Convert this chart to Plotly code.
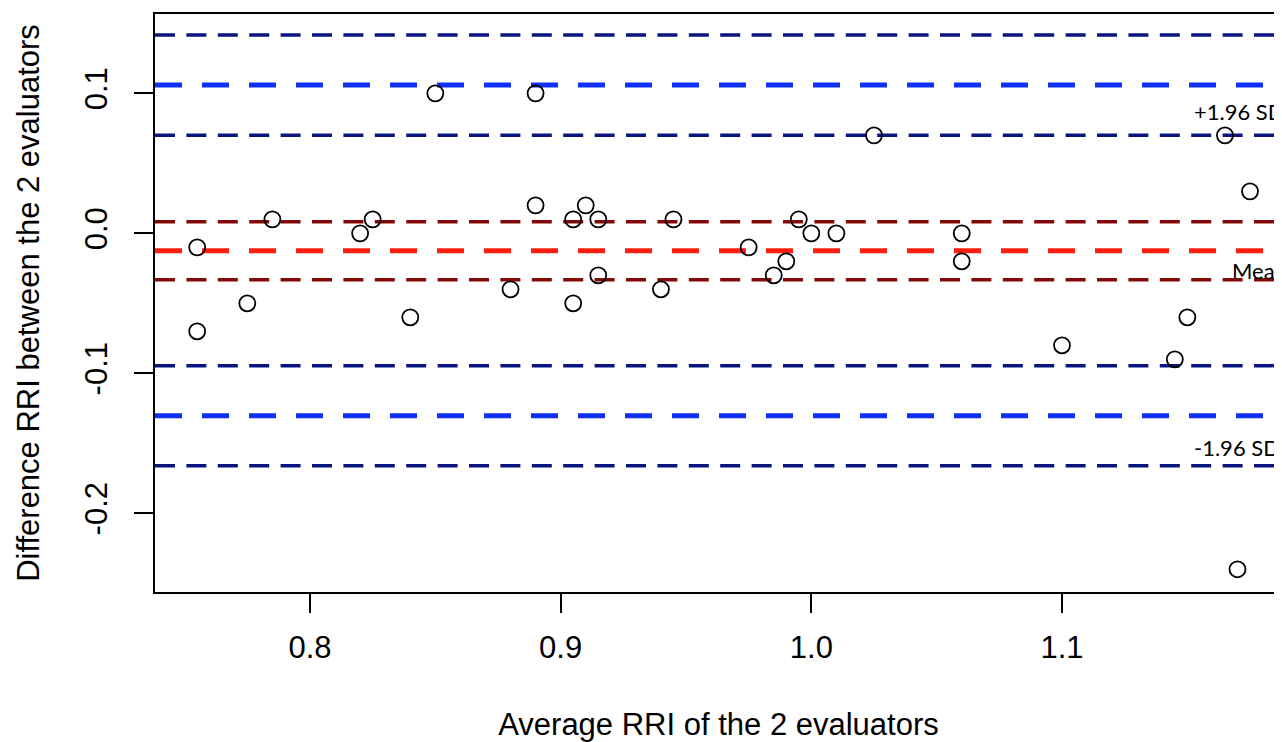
import plotly.graph_objects as go

# ---- data ----
avg_rri = [0.755, 0.755, 0.775, 0.785, 0.82, 0.825, 0.84, 0.85, 0.88, 0.89,
           0.89, 0.905, 0.905, 0.91, 0.915, 0.915, 0.94, 0.945, 0.975, 0.985,
           0.99, 0.995, 1.0, 1.01, 1.025, 1.06, 1.06, 1.10, 1.145, 1.15,
           1.165, 1.17, 1.175]
diff_rri = [-0.01, -0.07, -0.05, 0.01, 0.0, 0.01, -0.06, 0.10, -0.04, 0.10,
            0.02, 0.01, -0.05, 0.02, 0.01, -0.03, -0.04, 0.01, -0.01, -0.03,
            -0.02, 0.01, 0.0, 0.0, 0.07, 0.0, -0.02, -0.08, -0.09, -0.06,
            0.07, -0.24, 0.03]

mean_diff = -0.0124
mean_ci = [0.0083, -0.0331]
upper_loa = 0.1059
upper_ci = [0.1417, 0.0701]
lower_loa = -0.1303
lower_ci = [-0.0945, -0.1660]

x_range = [0.73817, 1.18776]
y_range = [-0.2562, 0.1567]
x_ticks = [0.8, 0.9, 1.0, 1.1]
x_ticktext = ["0.8", "0.9", "1.0", "1.1"]
y_ticks = [-0.2, -0.1, 0.0, 0.1]
y_ticktext = ["-0.2", "-0.1", "0.0", "0.1"]

BLUE = "#1030f5"
NAVY = "#0a1580"
RED = "#fb1e0e"
DARKRED = "#820a08"

THICK_DASH = "27px,20px"
THIN_DASH = "20px,11.4px"

fig = go.Figure()

def hline(y, color, width, dash):
    fig.add_trace(go.Scatter(
        x=x_range, y=[y, y], mode="lines",
        line=dict(color=color, width=width, dash=dash),
        hoverinfo="skip", showlegend=False))

for y in upper_ci + lower_ci:
    hline(y, NAVY, 3.5, THIN_DASH)
for y in mean_ci:
    hline(y, DARKRED, 3.5, THIN_DASH)
hline(upper_loa, BLUE, 5, THICK_DASH)
hline(lower_loa, BLUE, 5, THICK_DASH)
hline(mean_diff, RED, 5, THICK_DASH)

fig.add_trace(go.Scatter(
    x=avg_rri, y=diff_rri, mode="markers",
    marker=dict(symbol="circle-open", size=16, color="black",
                line=dict(color="black", width=1.8)),
    showlegend=False))

ann_font = dict(family="Lato, Open Sans, sans-serif", size=22, color="black")
fig.add_annotation(x=1.1517, y=0.0872, xref="x", yref="y", text="+1.96 SD",
                   showarrow=False, xanchor="left", yanchor="middle", font=ann_font)
fig.add_annotation(x=1.1669, y=-0.0262, xref="x", yref="y", text="Mean",
                   showarrow=False, xanchor="left", yanchor="middle", font=ann_font)
fig.add_annotation(x=1.1517, y=-0.1532, xref="x", yref="y", text="-1.96 SD",
                   showarrow=False, xanchor="left", yanchor="middle", font=ann_font)

axis_font = dict(family="Liberation Sans, Arial, sans-serif", size=31, color="black")

fig.update_layout(
    width=1274, height=734,
    margin=dict(l=147, r=0, t=6, b=150),
    paper_bgcolor="white", plot_bgcolor="white",
    font=axis_font,
    xaxis=dict(
        range=x_range, tickmode="array", tickvals=x_ticks, ticktext=x_ticktext,
        showgrid=False, zeroline=False, showline=True, mirror=True,
        linecolor="black", linewidth=2, ticks="outside", ticklen=19,
        tickwidth=2, tickcolor="black", tickfont=axis_font,
        ticklabelstandoff=8,
        title=dict(text="Average RRI of the 2 evaluators", font=axis_font, standoff=50),
    ),
    yaxis=dict(
        range=y_range, tickmode="array", tickvals=y_ticks, ticktext=y_ticktext,
        showgrid=False, zeroline=False, showline=True, mirror=False,
        linecolor="black", linewidth=2, ticks="outside", ticklen=19,
        tickwidth=2, tickcolor="black", tickfont=axis_font, tickangle=-90,
        ticklabelstandoff=15,
        title=dict(text="Difference RRI between the 2 evaluators", font=axis_font, standoff=30),
    ),
)

fig.write_html("out.html")
